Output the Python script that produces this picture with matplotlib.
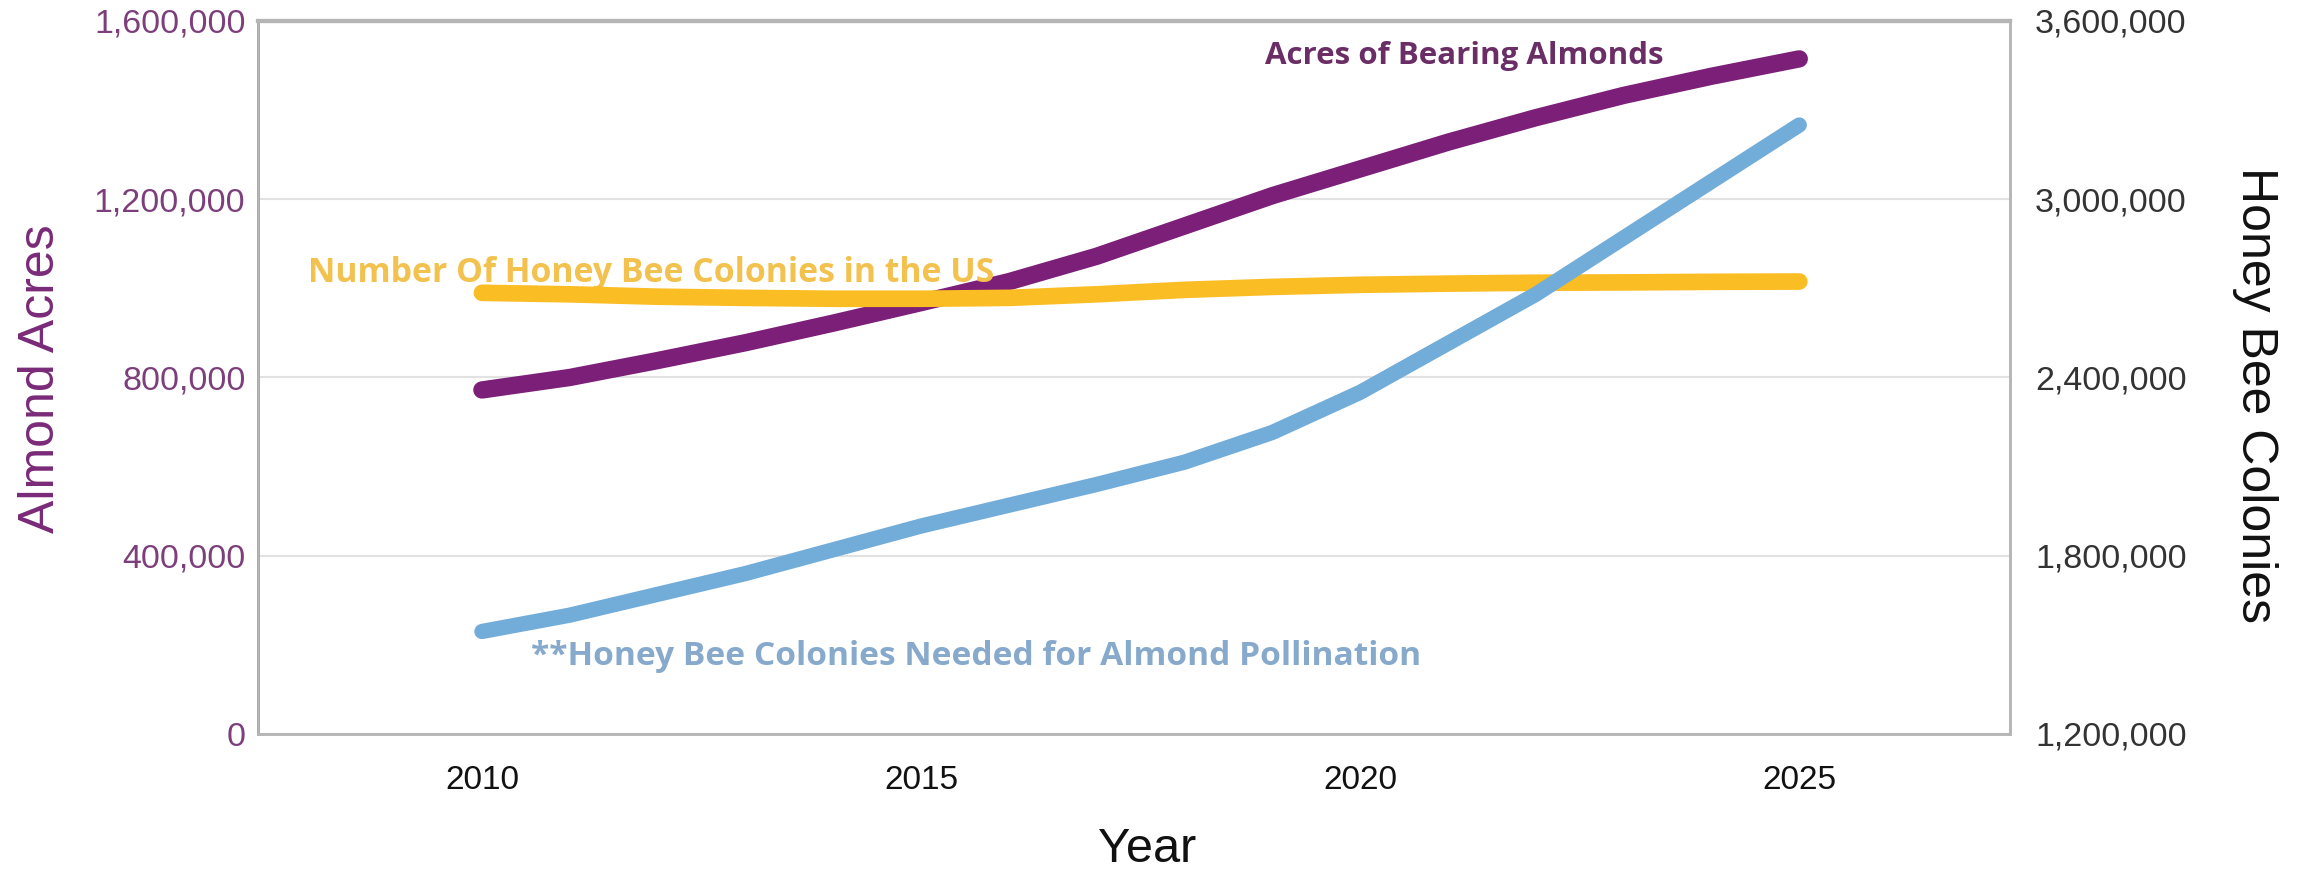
import matplotlib
matplotlib.use("Agg")
import matplotlib.pyplot as plt
from matplotlib import font_manager as fm
from matplotlib.ticker import FuncFormatter, FixedLocator

# ---- data ----
years = [2010, 2011, 2012, 2013, 2014, 2015, 2016, 2017, 2018, 2019, 2020, 2021, 2022, 2023, 2024, 2025]
almond_acres = [772000, 800000, 838000, 878000, 922000, 968000, 1015000, 1072000, 1140000, 1208000,
                1268000, 1328000, 1383000, 1433000, 1476000, 1515000]
us_colonies = [2685000, 2680000, 2672000, 2668000, 2665000, 2665000, 2668000, 2680000, 2695000, 2705000,
               2712000, 2716000, 2719000, 2720000, 2722000, 2723000]
needed_colonies = [1545000, 1600000, 1670000, 1740000, 1820000, 1900000, 1970000, 2040000, 2115000, 2215000,
                   2350000, 2515000, 2680000, 2870000, 3060000, 3250000]
x_ticks = [2010, 2015, 2020, 2025]
left_ticks = [0, 400000, 800000, 1200000, 1600000]
right_ticks = [1200000, 1800000, 2400000, 3000000, 3600000]
label_almonds = "Acres of Bearing Almonds"
label_us = "Number Of Honey Bee Colonies in the US"
label_needed = "**Honey Bee Colonies Needed for Almond Pollination"

available = {f.name for f in fm.fontManager.ttflist}
def pick(*names):
    for n in names:
        if n in available:
            return n
    return "DejaVu Sans"

narrow = pick("Liberation Sans Narrow", "Arial Narrow", "Liberation Sans")
regular = pick("Liberation Sans", "Arial")
annot = pick("Open Sans", "Noto Sans", "Lato")

PURPLE = "#7c1f78"
YELLOW = "#fbbd24"
BLUE = "#72acd9"

fig = plt.figure(figsize=(23.03, 8.71), dpi=100)
ax = fig.add_axes([0.1120, 0.1573, 0.7608, 0.8186])
ax2 = ax.twinx()

ax.set_xlim(2007.45, 2027.4)
ax.set_ylim(0, 1600000)
ax2.set_ylim(1200000, 3600000)

ax.yaxis.set_major_locator(FixedLocator(left_ticks))
ax2.yaxis.set_major_locator(FixedLocator(right_ticks))
ax.xaxis.set_major_locator(FixedLocator(x_ticks))
fmt = FuncFormatter(lambda v, p: f"{int(v):,}")
ax.yaxis.set_major_formatter(fmt)
ax2.yaxis.set_major_formatter(fmt)

ax.grid(axis="y", color="#e2e2e2", lw=1.5)
ax.set_axisbelow(True)

ax.plot(years, almond_acres, color=PURPLE, lw=12.5, solid_capstyle="round", solid_joinstyle="round", zorder=3)
ax2.plot(years, us_colonies, color=YELLOW, lw=12, solid_capstyle="round", solid_joinstyle="round", zorder=3)
ax2.plot(years, needed_colonies, color=BLUE, lw=11, solid_capstyle="round", solid_joinstyle="round", zorder=3)

for a in (ax, ax2):
    a.tick_params(length=0)
    for s in a.spines.values():
        s.set_color("#b5b5b5")
        s.set_linewidth(1.8)
ax.spines["left"].set_color("#8c5a8c")
ax.spines["top"].set_linewidth(3)
ax2.spines["top"].set_linewidth(3)

ax.tick_params(axis="y", pad=9, labelsize=24.5, labelcolor="#7d3f7b")
ax2.tick_params(axis="y", pad=18, labelsize=24.5, labelcolor="#333333")
ax.tick_params(axis="x", pad=22, labelsize=24, labelcolor="#111111")
for t in ax.get_yticklabels() + ax2.get_yticklabels():
    t.set_fontfamily(regular)
for t in ax.get_xticklabels():
    t.set_fontfamily(narrow)

fig.text(41 / 2303, 1 - 379 / 871, "Almond Acres", rotation=90, ha="center", va="center",
         fontsize=36, color="#7a2a78", family=narrow)
fig.text(2255 / 2303, 1 - 395 / 871, "Honey Bee Colonies", rotation=-90, ha="center", va="center",
         fontsize=36, color="#111111", family=narrow)
fig.text(1147 / 2303, 1 - 849 / 871, "Year", ha="center", va="center",
         fontsize=35, color="#111111", family=narrow)

fig.canvas.draw()
renderer = fig.canvas.get_renderer()
def fit(txt, width_px):
    w = txt.get_window_extent(renderer).width
    txt.set_fontsize(txt.get_fontsize() * width_px / w)

t1 = ax.text(0.575, 0.951, label_almonds, transform=ax.transAxes, ha="left", va="center",
             fontsize=20, fontweight="bold", color="#6b2d66", family=annot, zorder=5)
t2 = ax.text(0.0285, 0.6466, label_us, transform=ax.transAxes, ha="left", va="center",
             fontsize=20, fontweight="bold", color="#f2c14e", family=annot, zorder=5)
t3 = ax.text(0.156, 0.108, label_needed, transform=ax.transAxes, ha="left", va="center",
             fontsize=20, fontweight="bold", color="#86a9cc", family=annot, zorder=5)
fit(t1, 398)
fit(t2, 687)
fit(t3, 889)

fig.savefig("out.png", dpi=100)
